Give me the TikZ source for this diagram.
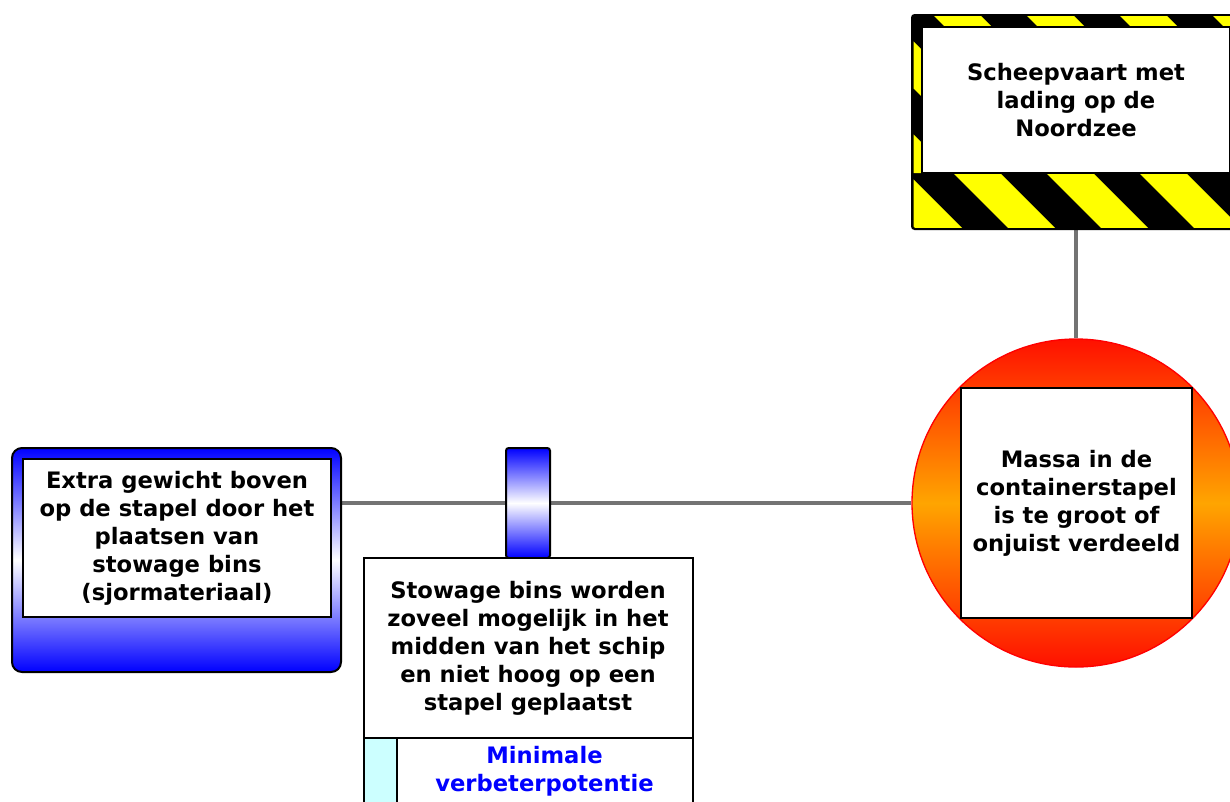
\documentclass[tikz,border=0pt]{standalone}
\usepackage{fontspec}
\setmainfont{DejaVu Sans}
\usetikzlibrary{positioning, backgrounds}
\definecolor{linkgray}{HTML}{737373}
\definecolor{hazyellow}{HTML}{FFFF00}
\definecolor{barblue}{HTML}{0000FF}
\definecolor{evred}{HTML}{FF1000}
\definecolor{evorange}{HTML}{FFA500}
\definecolor{effcyan}{HTML}{CCFFFF}
\tikzset{
  txt/.style={font=\fontsize{17}{21}\selectfont\bfseries, align=center},
  whitebox/.style={
    draw, line width=1.5pt, fill=white, txt,
    inner sep=0pt, outer sep=0pt
  },
  hazframe/.style={
    draw, line width=1.5pt, fill=black, rounded corners=2pt,
    minimum width=246pt, minimum height=160.5pt
  },
  threatbox/.style={
    draw, line width=1.5pt, rounded corners=7.5pt,
    top color=barblue, bottom color=barblue, middle color=white,
    minimum width=246.75pt, minimum height=168pt
  },
  barrierbox/.style={
    draw, line width=1.5pt, rounded corners=2pt, outer sep=0pt,
    top color=barblue, bottom color=barblue, middle color=white,
    minimum width=33pt, minimum height=82.5pt
  },
  eventdisc/.style={
    circle, draw=red, line width=1pt, inner sep=0pt,
    top color=evred, bottom color=evred, middle color=evorange,
    minimum size=246pt
  },
  cyanstrip/.style={
    draw, line width=1.5pt, fill=effcyan, outer sep=0pt,
    minimum width=24.75pt, minimum height=69pt
  },
  efftxt/.style={txt, text=barblue, inner sep=0pt},
  link/.style={draw=linkgray, line width=2.4pt},
  stripe/.style={fill=hazyellow},
}

\begin{document}
\begin{tikzpicture}[x=0.75pt, y=-0.75pt]
  \useasboundingbox (0,0) rectangle (1230,801);

  % hazard
  \node[hazframe] (hazframe) at (1076,122) {};
  \begin{scope}
    \clip (913.5,16.5) rectangle (1240,173);
    \foreach \k in {-2,...,3}
      \fill[stripe] ({933+93*\k},15) -- ++(47,0) -- ++(158,158) -- ++(-47,0) -- cycle;
  \end{scope}
  \begin{scope}
    \clip (913.5,173) rectangle (1240,227.5);
    \foreach \k in {-1,...,3}
      \fill[stripe] ({953+93*\k},173) -- ++(47,0) -- ++(56,56) -- ++(-47,0) -- cycle;
  \end{scope}
  \node[whitebox, minimum width=231pt, minimum height=109.5pt]
    (hazard) at (1076,100) {Scheepvaart met\\lading op de\\Noordzee};

  % top event
  \node[eventdisc] (event) at (1076,503) {};
  \node[whitebox, minimum width=173.25pt, minimum height=172.5pt]
    (topevent) at (1076.5,503)
    {Massa in de\\containerstapel\\is te groot of\\onjuist verdeeld};

  % threat
  \node[threatbox] (threat) at (176.5,560) {};
  \node[whitebox, minimum width=231pt, minimum height=118.5pt]
    (threattxt) at (177,538)
    {Extra gewicht boven\\op de stapel door het\\plaatsen van\\stowage bins\\(sjormateriaal)};

  % barrier
  \node[barrierbox] (barrier) at (528,503) {};
  \node[whitebox, below=0pt of barrier, minimum width=246.75pt, minimum height=135pt]
    (bartxt) {Stowage bins worden\\zoveel mogelijk in het\\midden van het schip\\en niet hoog op een\\stapel geplaatst};
  \node[whitebox, below left=0pt and 0pt of bartxt.south east,
        minimum width=222pt, minimum height=69pt] (eff) {};
  \node[cyanstrip, left=0pt of eff] (effmark) {};
  \node[efftxt, below=6pt of eff.north] (efftext) {Minimale\\verbeterpotentie};

  \begin{scope}[on background layer]
    \draw[link] (hazframe.south) -- (event.north);
    \draw[link] (event.west) -- (event.west -| threat.east);
  \end{scope}
\end{tikzpicture}
\end{document}
